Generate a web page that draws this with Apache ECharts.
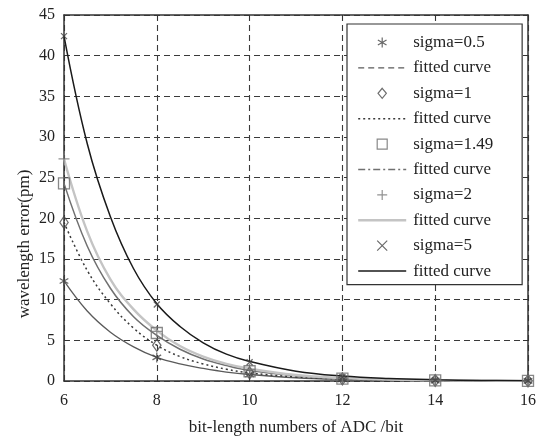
<!DOCTYPE html>
<html>
<head>
<meta charset="utf-8">
<script src="https://cdn.jsdelivr.net/npm/echarts@6/dist/echarts.min.js"></script>
<style>html,body{margin:0;padding:0;background:#fff}#c{width:540px;height:437px}</style>
</head>
<body>
<div id="c"></div>
<script>
// Measured points (bits, error in pm)
const markerBits = [6, 8, 10, 12, 14, 16];
const s05Points = [12.3, 2.9, 0.8, 0.2, 0.05, 0.01];
const s1Points = [19.5, 4.4, 1.0, 0.25, 0.06, 0.02];
const s149Points = [24.3, 5.9, 1.2, 0.3, 0.08, 0.02];
const s2Points = [27.3, 6.1, 1.4, 0.35, 0.09, 0.02];
const s5Points = [42.4, 9.4, 2.3, 0.5, 0.13, 0.03];

// Fitted curves
const curveBits = [6, 6.5, 7, 7.5, 8, 8.5, 9, 9.5, 10, 11, 12, 13, 14, 15, 16];
const s05Curve = [12.3, 8.6, 6.0, 4.2, 2.9, 2.1, 1.55, 1.1, 0.8, 0.4, 0.2, 0.1, 0.05, 0.03, 0.01];
const s1Curve = [19.5, 13.6, 9.5, 6.5, 4.4, 3.0, 2.1, 1.45, 1.0, 0.5, 0.25, 0.12, 0.06, 0.03, 0.02];
const s149Curve = [24.3, 16.6, 11.4, 7.9, 5.6, 3.9, 2.7, 1.9, 1.3, 0.65, 0.32, 0.16, 0.08, 0.04, 0.02];
const s2Curve = [27.3, 18.4, 12.5, 8.8, 6.2, 4.3, 3.0, 2.1, 1.5, 0.73, 0.36, 0.18, 0.09, 0.04, 0.02];
const s5Curve = [42.4, 29.2, 20.2, 13.8, 9.5, 6.7, 4.7, 3.3, 2.4, 1.2, 0.6, 0.3, 0.15, 0.07, 0.03];

const markerNames = ['sigma=0.5', 'sigma=1', 'sigma=1.49', 'sigma=2', 'sigma=5'];
const curveName = 'fitted curve';
const yTicks = [0, 45, 5];
const xTicks = [6, 16, 2];
const xTitle = 'bit-length numbers of ADC /bit';
const yTitle = 'wavelength error(pm)';

const FONT = '"Liberation Serif", "Times New Roman", serif';
const pts = (xs, ys) => xs.map((x, i) => [x, ys[i]]);

const symAsterisk = 'path://M5,0L5,10M0.67,2.5L9.33,7.5M0.67,7.5L9.33,2.5';
const symPlus = 'path://M5,0L5,10M0,5L10,5';
const symX = 'path://M1,1L9,9M1,9L9,1';
const symDiamond = 'path://M5,0L10,6L5,12L0,6Z';
const symSquare = 'path://M0,0L10,0L10,10L0,10Z';

const markerDefs = [
  {data: s05Points, symbol: symAsterisk, size: 10, color: '#444'},
  {data: s1Points, symbol: symDiamond, size: [10, 12], color: '#4a4a4a'},
  {data: s149Points, symbol: symSquare, size: 11, color: '#6a6a6a'},
  {data: s2Points, symbol: symPlus, size: 11, color: '#777'},
  {data: s5Points, symbol: symX, size: 6, color: '#444'}
];
const curveDefs = [
  {data: s05Curve, color: '#5a5a5a', width: 1.3, type: 'solid', legendType: [6, 4]},
  {data: s1Curve, color: '#3a3a3a', width: 1.5, type: [2, 3], legendType: [2, 3]},
  {data: s149Curve, color: '#707070', width: 1.5, type: 'solid', legendType: [7, 3, 2, 3]},
  {data: s2Curve, color: '#c4c4c4', width: 2.4, type: 'solid', legendType: 'solid'},
  {data: s5Curve, color: '#1a1a1a', width: 1.5, type: 'solid', legendType: 'solid'}
];

const series = [];
const legendData = [];
markerDefs.forEach((m, i) => {
  const c = curveDefs[i];
  const cname = curveName + ' '.repeat(i);
  series.push({
    name: cname, type: 'line', data: pts(curveBits, c.data),
    smooth: 0.4,
    symbol: 'none', z: 2,
    lineStyle: {color: c.color, width: c.width, type: c.type},
    itemStyle: {color: c.color}
  });
  series.push({
    name: markerNames[i], type: 'scatter', data: pts(markerBits, m.data),
    symbol: m.symbol, symbolSize: m.size, symbolKeepAspect: true, z: 5,
    itemStyle: {color: 'rgba(0,0,0,0)', borderColor: m.color, borderWidth: 1.3}
  });
  legendData.push({name: markerNames[i], itemStyle: {color: 'rgba(0,0,0,0)', borderColor: m.color, borderWidth: 1.2}});
  legendData.push({name: cname, itemStyle: {opacity: 0},
    lineStyle: {color: c.color, width: c.width, type: c.legendType}});
});

const chart = echarts.init(document.getElementById('c'), null, {renderer: 'canvas'});
chart.setOption({
  animation: false,
  backgroundColor: '#fff',
  textStyle: {fontFamily: FONT},
  grid: {left: 64, right: 12, top: 15, bottom: 56, containLabel: false, outerBoundsMode: 'none'},
  legend: {
    orient: 'vertical', left: 347, top: 24,
    data: legendData,
    symbolKeepAspect: true,
    itemWidth: 48, itemHeight: 10, itemGap: 8.4,
    padding: [10, 29, 5, 10],
    borderColor: '#333', borderWidth: 1.2, backgroundColor: '#fff',
    selectedMode: false,
    formatter: n => n.trim(),
    textStyle: {fontFamily: FONT, fontSize: 17, color: '#222', padding: [0, 0, 0, 2]}
  },
  graphic: [{
    type: 'text', x: 25, y: 244, rotation: Math.PI / 2,
    style: {text: yTitle, font: '17px ' + FONT, fill: '#222', align: 'center', verticalAlign: 'middle'}
  }],
  xAxis: [{
    type: 'value', min: xTicks[0], max: xTicks[1], interval: xTicks[2],
    name: xTitle, nameLocation: 'middle', nameGap: 38,
    nameTextStyle: {fontFamily: FONT, fontSize: 17, color: '#222'},
    axisLine: {show: true, onZero: false, lineStyle: {color: '#333', width: 1.5}},
    axisTick: {inside: true, length: 5, lineStyle: {color: '#333'}},
    axisLabel: {fontFamily: FONT, fontSize: 16, color: '#222', margin: 12},
    splitLine: {show: true, lineStyle: {color: '#3a3a3a', type: [6, 4], width: 1.1}}
  }, {
    type: 'value', position: 'top', min: xTicks[0], max: xTicks[1], interval: xTicks[2],
    axisLine: {show: true, onZero: false, lineStyle: {color: '#333', width: 1.5}},
    axisTick: {inside: true, length: 5, lineStyle: {color: '#333'}},
    axisLabel: {show: false}, splitLine: {show: false}
  }],
  yAxis: [{
    type: 'value', min: yTicks[0], max: yTicks[1], interval: yTicks[2],
    axisLine: {show: true, onZero: false, lineStyle: {color: '#333', width: 1.5}},
    axisTick: {inside: true, length: 5, lineStyle: {color: '#333'}},
    axisLabel: {fontFamily: FONT, fontSize: 16, color: '#222', margin: 9},
    splitLine: {show: true, lineStyle: {color: '#3a3a3a', type: [6, 4], width: 1.1}}
  }, {
    type: 'value', position: 'right', min: yTicks[0], max: yTicks[1], interval: yTicks[2],
    axisLine: {show: true, onZero: false, lineStyle: {color: '#333', width: 1.5}},
    axisTick: {inside: true, length: 5, lineStyle: {color: '#333'}},
    axisLabel: {show: false}, splitLine: {show: false}
  }],
  series: series
});
</script>
</body>
</html>
